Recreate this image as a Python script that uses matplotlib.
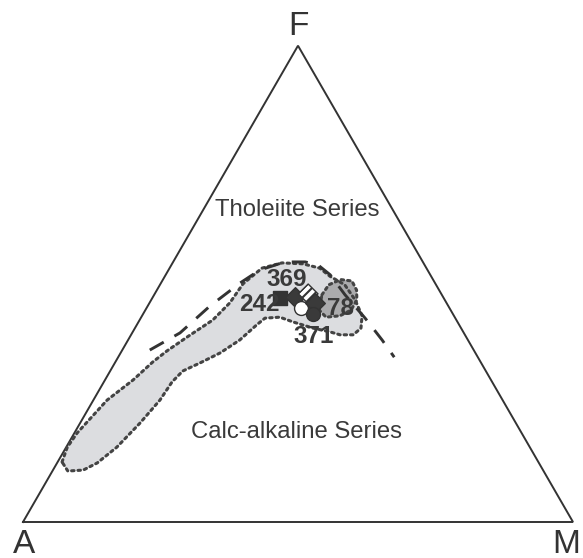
import numpy as np
import matplotlib
matplotlib.use('Agg')
import matplotlib.pyplot as plt
from matplotlib.patches import Polygon

plt.rcParams['font.family'] = ['Liberation Sans', 'DejaVu Sans']

# AFM ternary data, in percent (F, M); A = 100 - F - M
# light field (all samples of the suite)
field_F = [12.6, 15.7, 18.7, 25.6, 29.8, 33.6, 35.9, 38.8, 42.4, 46.0, 50.0, 53.3, 54.4,
           54.2, 53.3, 51.6, 49.8, 46.6, 43.3, 40.7, 39.3, 39.3, 39.9, 40.7, 42.0, 43.0,
           42.8, 41.4, 38.2, 35.5, 33.4, 31.7, 29.4, 25.6, 20.8, 15.7, 12.4, 10.9, 10.7]
field_M = [0.8, 0.2, 0.5, 2.5, 5.1, 6.8, 8.2, 10.4, 13.3, 14.6, 15.0, 16.8, 19.9,
           23.8, 27.3, 30.0, 33.6, 37.1, 40.0, 41.1, 40.4, 38.0, 35.9, 32.4, 28.1, 25.2,
           22.6, 21.8, 20.3, 18.1, 15.5, 13.2, 12.4, 12.1, 10.9, 9.2, 7.3, 5.5, 2.8]

# darker field (sample 78 group)
dark_F = [47.7, 49.8, 50.9, 50.6, 48.7, 46.6, 44.5, 43.3, 43.0, 44.5]
dark_M = [30.5, 30.7, 32.3, 34.5, 36.3, 37.4, 37.4, 36.0, 33.6, 31.6]

# Tholeiite / calc-alkaline boundary
bound_F = [36.1, 39.7, 45.3, 50.2, 52.9, 54.6, 54.6, 54.0, 51.9, 47.7, 42.8, 38.2, 34.6]
bound_M = [5.0, 8.7, 11.3, 14.4, 16.6, 20.3, 24.0, 26.6, 29.9, 34.7, 40.8, 46.2, 50.2]

# samples
samp_F = [47.0, 47.2, 47.9, 44.9, 46.0, 43.7]
samp_M = [23.3, 25.8, 27.9, 28.1, 30.1, 30.9]
samp_marker = ['s', 'D', 'D', 'o', 'D', 'o']
samp_face = ['#333333', '#3a3a3a', 'white', 'white', '#3a3a3a', '#3a3a3a']
samp_hatch = [None, None, '////', None, None, None]

sample_labels = ['369', '242', '78', '371']
label_F = [51.0, 45.6, 44.9, 38.9]
label_M = [22.5, 20.2, 35.3, 33.4]

H = np.sqrt(3) / 2


def to_xy(F, M):
    F = np.asarray(F) / 100.0
    M = np.asarray(M) / 100.0
    return M + F / 2, F * H


fig = plt.figure(figsize=(5.83, 5.58), dpi=100)
ax = fig.add_axes([0, 0, 1, 1])
ax.set_xlim(-23 / 550, 560 / 550)
ax.set_ylim(-36 / 550, 522 / 550)
ax.axis('off')

ink = '#333333'

# triangle
ax.plot([0, 1, 0.5, 0], [0, 0, H, 0], color=ink, lw=1.4, solid_joinstyle='miter')

# fields
fx, fy = to_xy(field_F, field_M)
ax.add_patch(Polygon(np.c_[fx, fy], closed=True, facecolor='#dcdde0', edgecolor='none', zorder=1))
dx, dy = to_xy(dark_F, dark_M)
ax.add_patch(Polygon(np.c_[dx, dy], closed=True, facecolor='#ababad', edgecolor='none', zorder=2))
ax.plot(np.r_[fx, fx[0]], np.r_[fy, fy[0]], color='#444444', lw=2.2,
        linestyle=(0, (0.8, 1.3)), dash_capstyle='round', zorder=3)
ax.plot(np.r_[dx, dx[0]], np.r_[dy, dy[0]], color='#444444', lw=2.2,
        linestyle=(0, (0.8, 1.3)), dash_capstyle='round', zorder=3)

# boundary line
bx, by = to_xy(bound_F, bound_M)
ax.plot(bx, by, color=ink, lw=2.1, linestyle=(0, (5.5, 4.2)), zorder=4)

# samples
sx, sy = to_xy(samp_F, samp_M)
plt.rcParams['hatch.linewidth'] = 1.5
for i in range(len(sx)):
    ax.scatter(sx[i], sy[i], marker=samp_marker[i], s=100, facecolor=samp_face[i],
               edgecolor=ink, linewidth=1.0, hatch=samp_hatch[i], zorder=5 + i * 0.1)

# sample labels
lx, ly = to_xy(label_F, label_M)
for t, x, y in zip(sample_labels, lx, ly):
    ax.text(x, y, t, ha='center', va='center', fontsize=17.5, fontweight='bold',
            color='#3a3a3a', zorder=7)

# series names
ax.text(0.498, 0.567, 'Tholeiite Series', ha='center', va='center', fontsize=17.2, color='#3a3a3a')
ax.text(0.498, 0.164, 'Calc-alkaline Series', ha='center', va='center', fontsize=17.2, color='#3a3a3a')

# vertex labels
ax.text(0.5, H + 0.035, 'F', ha='center', va='center', fontsize=24, color='#333333')
ax.text(0.002, -0.041, 'A', ha='center', va='center', fontsize=24, color='#333333')
ax.text(0.988, -0.041, 'M', ha='center', va='center', fontsize=24, color='#333333')

fig.savefig('out.png', dpi=100)
